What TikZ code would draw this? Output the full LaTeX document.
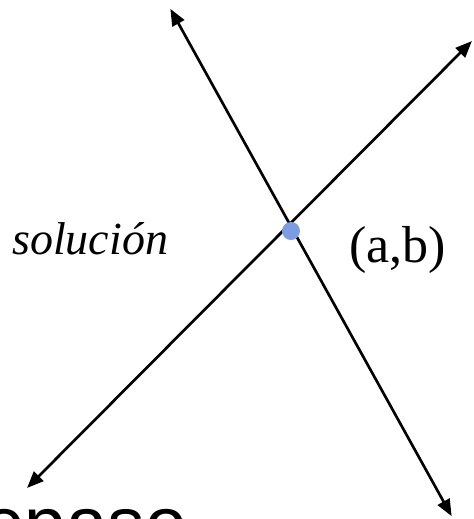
\documentclass[tikz,border=0pt]{standalone}
\usepackage{fontspec}
\setmainfont{Liberation Serif}
\newfontfamily\sansf{Liberation Sans}
\usetikzlibrary{arrows.meta}
\definecolor{dotblue}{RGB}{125,157,227}
\tikzset{
  dblarrow/.style={line width=2pt, {Triangle[length=12.5pt,width=10pt]}-{Triangle[length=12.5pt,width=10pt]}, shorten <=-1pt, shorten >=-1pt},
  lbl/.style={inner sep=0pt, anchor=base west},
  pt/.style={circle, fill=dotblue, inner sep=0pt, minimum size=13.5pt}
}
\begin{document}
\begin{tikzpicture}[x=0.75pt,y=-0.75pt]
\clip (0,0) rectangle (474,519);
\useasboundingbox (0,0) rectangle (474,519);
\coordinate (l1a) at (171,10);
\coordinate (l1b) at (451,515);
\coordinate (l2a) at (471,42);
\coordinate (l2b) at (28,487);
\draw[dblarrow] (l1a) -- (l1b);
\draw[dblarrow] (l2a) -- (l2b);
\node[pt] (sol) at (291,231) {};
\node[lbl] (tsol) at (12,254) {\fontsize{34.5pt}{40pt}\selectfont\itshape solución};
\node[lbl] (tab) at (349,262) {\fontsize{39pt}{44pt}\selectfont (a,b)};
\node[lbl] (tpaso) at (-42,549) {\fontsize{56pt}{60pt}\selectfont\sansf repaso};
\end{tikzpicture}
\end{document}
